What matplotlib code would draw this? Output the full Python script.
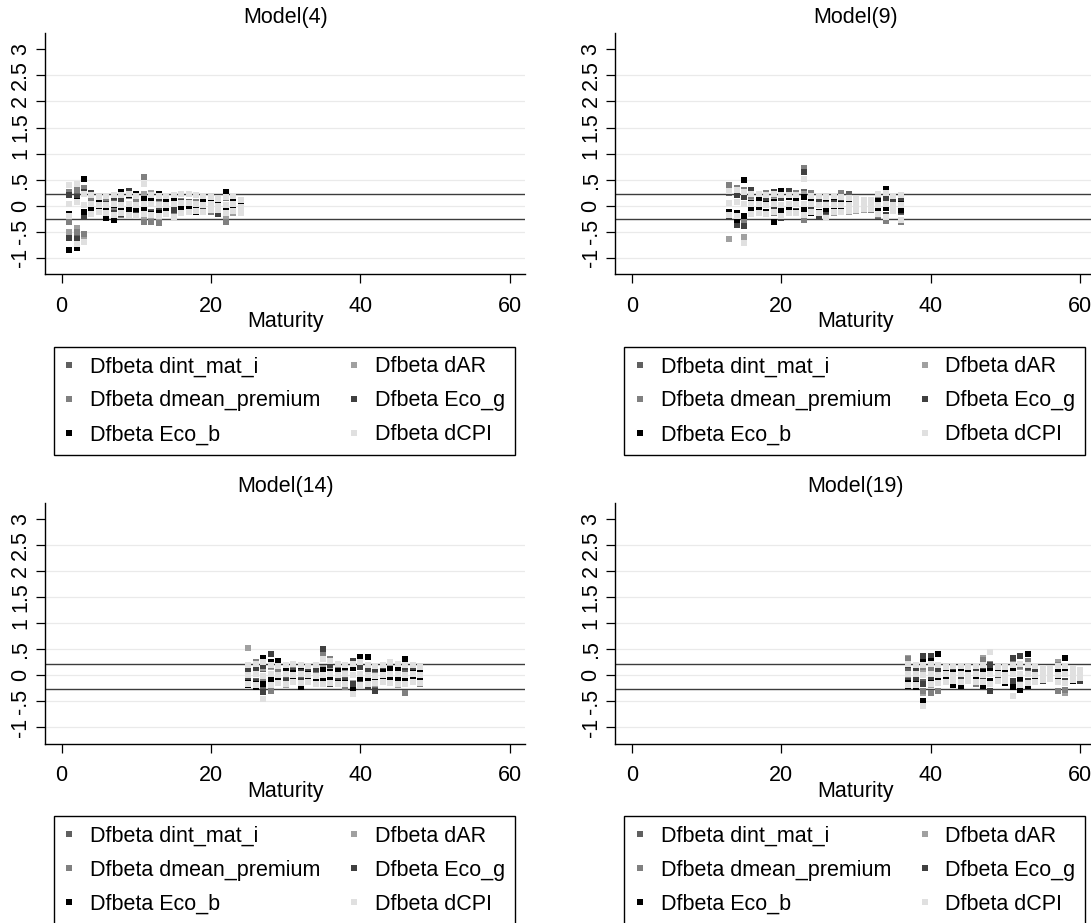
import matplotlib
matplotlib.use("Agg")
import matplotlib.pyplot as plt

plt.rcParams["font.family"] = ["Liberation Sans", "DejaVu Sans"]
plt.rcParams["font.size"] = 15.5

# ---- data ----
TITLES = ["Model(4)", "Model(9)", "Model(14)", "Model(19)"]
Y_TICKS = [-1, -0.5, 0, 0.5, 1, 1.5, 2, 2.5, 3]
Y_TICK_LABELS = ["-1", "-.5", "0", ".5", "1", "1.5", "2", "2.5", "3"]
X_TICKS = [0, 20, 40, 60]
CUTOFFS = [0.22, -0.26]

SERIES = ["Dfbeta dint_mat_i", "Dfbeta dAR", "Dfbeta dmean_premium",
          "Dfbeta Eco_g", "Dfbeta Eco_b", "Dfbeta dCPI"]
COLORS = ["#606060", "#a0a0a0", "#808080", "#404040", "#000000", "#e0e0e0"]

MAT_4 = list(range(1, 25))
MAT_9 = list(range(13, 37))
MAT_14 = list(range(25, 49))
MAT_19 = list(range(37, 61))

# model 4
M4_DINT = [[0.26, 0.22, 0.26, 0.22, 0.10, 0.12, 0.14, 0.18, 0.24, 0.16, 0.06, 0.20, 0.18, 0.08, 0.10, 0.05, 0.06, 0.03, 0.14, 0.06, 0.04, 0.22, 0.14, 0.07],
           [-0.58, -0.62, -0.18, -0.08, -0.03, -0.17, -0.19, -0.17, -0.15, -0.12, -0.10, -0.12, -0.14, -0.10, -0.06, -0.12, -0.09, -0.11, -0.12, -0.08, -0.17, -0.25, -0.09, -0.06]]
M4_DAR = [[0.39, 0.30, 0.30, 0.18, 0.10, 0.07, 0.04, 0.10, 0.18, 0.14, 0.22, 0.24, 0.12, 0.12, 0.08, 0.06, 0.04, 0.05, 0.18, 0.10, 0.08, 0.18, 0.18, 0.05],
          [-0.51, -0.44, -0.58, -0.14, -0.10, -0.10, -0.12, -0.12, -0.14, -0.12, -0.24, -0.28, -0.30, -0.12, -0.15, -0.08, -0.06, -0.12, -0.08, -0.10, -0.12, -0.20, -0.14, -0.10]]
M4_DMEAN = [[0.26, 0.29, 0.33, 0.12, 0.08, 0.10, 0.20, 0.12, 0.18, 0.10, 0.54, 0.18, 0.20, 0.10, 0.06, 0.08, 0.05, 0.06, 0.18, 0.05, 0.08, 0.14, 0.18, 0.06],
            [-0.31, -0.50, -0.54, -0.10, -0.08, -0.14, -0.04, -0.18, -0.10, -0.12, -0.31, -0.31, -0.33, -0.10, -0.13, -0.06, -0.09, -0.06, -0.10, -0.13, -0.10, -0.31, -0.10, -0.07]]
M4_ECO_G = [[0.20, 0.16, 0.26, 0.24, 0.08, 0.04, 0.16, 0.12, 0.28, 0.18, 0.10, 0.20, 0.15, 0.10, 0.14, 0.06, 0.04, 0.02, 0.10, 0.08, 0.03, 0.16, 0.12, 0.07],
            [-0.62, -0.65, -0.22, -0.04, -0.06, -0.12, -0.14, -0.17, -0.12, -0.10, -0.13, -0.14, -0.10, -0.07, -0.09, -0.09, -0.10, -0.12, -0.10, -0.06, -0.17, -0.15, -0.08, -0.05]]
M4_ECO_B = [[-0.17, 0.09, 0.52, 0.01, 0.13, -0.09, 0.02, 0.26, 0.20, 0.23, 0.12, 0.10, 0.23, 0.13, 0.13, 0.03, 0.00, -0.05, 0.06, 0.13, 0.04, 0.26, 0.08, 0.04],
            [-0.85, -0.81, -0.12, -0.06, -0.04, -0.23, -0.28, -0.10, -0.09, -0.06, -0.08, -0.17, -0.15, -0.06, 0.08, -0.08, -0.09, -0.12, -0.13, 0.06, -0.05, -0.10, -0.06, -0.04]]
M4_DCPI = [[0.39, 0.41, 0.22, 0.20, 0.16, 0.18, 0.20, 0.20, 0.22, 0.18, 0.41, 0.20, 0.18, 0.18, 0.20, 0.22, 0.22, 0.20, 0.18, 0.16, 0.12, 0.16, 0.18, 0.10],
           [0.04, 0.06, 0.02, 0.03, 0.01, 0.02, 0.03, 0.02, 0.03, 0.02, 0.04, 0.03, 0.01, 0.02, 0.03, 0.05, 0.05, 0.03, 0.02, 0.03, 0.00, 0.02, 0.03, -0.02],
           [-0.20, -0.74, -0.70, -0.16, -0.12, -0.15, -0.18, -0.14, -0.18, -0.20, -0.16, -0.18, -0.20, -0.16, -0.22, -0.14, -0.12, -0.10, -0.12, -0.08, -0.08, -0.14, -0.10, -0.15]]

# model 9
M9_DINT = [[0.24, 0.22, 0.20, 0.24, 0.12, 0.14, 0.18, 0.16, 0.24, 0.12, 0.26, 0.12, 0.10, 0.08, 0.12, 0.10, 0.23, 0.08, 0.06, 0.08, 0.10, 0.12, 0.08, 0.08],
           [-0.14, -0.30, -0.28, -0.12, -0.10, -0.14, -0.10, -0.18, -0.11, -0.12, -0.08, -0.12, -0.16, -0.12, -0.10, -0.10, -0.09, -0.08, -0.08, -0.06, -0.20, -0.25, -0.08, -0.12]]
M9_DAR = [[0.30, 0.30, 0.26, 0.16, 0.12, 0.24, 0.18, 0.14, 0.16, 0.20, 0.22, 0.24, 0.10, 0.10, 0.12, 0.20, 0.14, 0.08, 0.08, 0.08, 0.12, 0.16, 0.10, 0.18],
          [-0.64, -0.24, -0.60, -0.17, -0.14, -0.12, -0.12, -0.20, -0.14, -0.12, -0.27, -0.14, -0.16, -0.10, -0.14, -0.12, -0.12, -0.10, -0.08, -0.08, -0.15, -0.30, -0.08, -0.32]]
M9_DMEAN = [[0.40, 0.34, 0.30, 0.18, 0.14, 0.24, 0.20, 0.18, 0.20, 0.24, 0.72, 0.24, 0.14, 0.10, 0.14, 0.24, 0.12, 0.10, 0.08, 0.06, 0.10, 0.14, 0.08, 0.18],
            [-0.16, -0.22, -0.30, -0.17, -0.12, -0.16, -0.14, -0.20, -0.12, -0.14, -0.27, -0.12, -0.14, -0.10, -0.12, -0.10, -0.10, -0.08, -0.06, -0.08, -0.18, -0.30, -0.08, -0.32]]
M9_ECO_G = [[0.26, 0.20, 0.17, 0.30, 0.10, 0.12, 0.26, 0.14, 0.28, 0.08, 0.64, 0.10, 0.08, 0.06, 0.10, 0.12, 0.07, 0.06, 0.05, 0.06, 0.05, 0.15, 0.06, 0.08],
            [-0.20, -0.38, -0.40, -0.10, -0.08, -0.12, -0.08, -0.24, -0.11, -0.10, -0.10, -0.08, -0.20, -0.10, -0.08, -0.08, -0.10, -0.06, -0.06, -0.05, -0.17, -0.19, -0.06, -0.10]]
M9_ECO_B = [[-0.13, -0.14, 0.49, 0.05, 0.15, 0.04, 0.06, 0.28, 0.17, 0.10, 0.17, 0.06, 0.02, 0.15, 0.17, 0.04, 0.03, 0.02, 0.05, 0.03, 0.08, 0.31, 0.02, 0.04],
            [-0.15, -0.27, -0.20, -0.05, -0.08, -0.13, -0.32, -0.10, -0.06, -0.12, -0.08, -0.14, -0.13, -0.06, -0.05, -0.08, -0.11, -0.07, -0.05, -0.06, -0.08, -0.04, -0.11, -0.08]]
M9_DCPI = [[0.28, 0.30, 0.26, 0.22, 0.22, 0.20, 0.22, 0.20, 0.20, 0.20, 0.51, 0.18, 0.18, 0.16, 0.18, 0.16, 0.14, 0.12, 0.10, 0.10, 0.22, 0.24, 0.18, 0.20],
           [0.05, 0.06, 0.03, 0.04, 0.03, 0.02, 0.04, 0.02, 0.03, 0.03, 0.04, 0.03, 0.01, 0.02, 0.02, 0.02, 0.02, 0.01, 0.01, 0.01, 0.02, 0.03, 0.02, 0.02],
           [-0.18, -0.20, -0.72, -0.16, -0.14, -0.16, -0.12, -0.20, -0.14, -0.14, -0.18, -0.12, -0.14, -0.24, -0.12, -0.12, -0.10, -0.08, -0.06, -0.06, -0.16, -0.22, -0.10, -0.28]]

# model 14
M14_DINT = [[0.08, 0.14, 0.12, 0.20, 0.12, 0.10, 0.10, 0.12, 0.12, 0.10, 0.14, 0.16, 0.10, 0.12, 0.20, 0.18, 0.14, 0.10, 0.08, 0.08, 0.06, 0.12, 0.08, 0.12],
            [-0.12, -0.12, -0.22, -0.10, -0.14, -0.10, -0.12, -0.10, -0.10, -0.12, -0.12, -0.14, -0.12, -0.10, -0.16, -0.14, -0.15, -0.20, -0.10, -0.10, -0.08, -0.16, -0.08, -0.12]]
M14_DAR = [[0.51, 0.20, 0.14, 0.16, 0.12, 0.10, 0.14, 0.08, 0.10, 0.12, 0.14, 0.16, 0.20, 0.10, 0.16, 0.30, 0.12, 0.08, 0.10, 0.14, 0.08, 0.20, 0.08, 0.12],
           [-0.08, -0.14, -0.12, -0.31, -0.14, -0.20, -0.10, -0.12, -0.10, -0.15, -0.12, -0.14, -0.12, -0.24, -0.16, -0.12, -0.14, -0.18, -0.12, -0.14, -0.20, -0.34, -0.12, -0.18]]
M14_DMEAN = [[0.11, 0.24, 0.17, 0.18, 0.10, 0.12, 0.14, 0.10, 0.12, 0.08, 0.40, 0.30, 0.20, 0.10, 0.18, 0.30, 0.18, 0.10, 0.10, 0.12, 0.08, 0.20, 0.10, 0.14],
             [-0.10, -0.16, -0.12, -0.31, -0.12, -0.14, -0.12, -0.14, -0.12, -0.15, -0.14, -0.12, -0.14, -0.24, -0.20, -0.14, -0.12, -0.16, -0.10, -0.12, -0.10, -0.34, -0.10, -0.18]]
M14_ECO_G = [[0.12, 0.10, 0.17, 0.40, 0.17, 0.14, 0.08, 0.10, 0.10, 0.12, 0.49, 0.20, 0.08, 0.15, 0.27, 0.16, 0.10, 0.12, 0.08, 0.10, 0.06, 0.15, 0.10, 0.14],
             [-0.10, -0.14, -0.32, -0.14, -0.10, -0.12, -0.10, -0.12, -0.10, -0.12, -0.15, -0.18, -0.10, -0.12, -0.18, -0.12, -0.21, -0.31, -0.12, -0.08, -0.10, -0.18, -0.06, -0.10]]
M14_ECO_B = [[-0.15, -0.18, 0.33, 0.24, 0.27, 0.12, 0.04, 0.17, 0.01, 0.20, 0.10, 0.06, 0.08, 0.15, 0.14, 0.35, 0.35, 0.17, 0.06, 0.11, 0.10, 0.30, 0.04, 0.06],
             [-0.20, -0.24, -0.18, -0.10, -0.12, -0.18, -0.10, -0.24, -0.12, -0.10, -0.06, -0.10, -0.15, -0.16, -0.28, -0.05, -0.12, -0.08, -0.12, -0.06, -0.08, -0.10, -0.08, -0.06]]
M14_DCPI = [[0.20, 0.22, 0.24, 0.20, 0.18, 0.20, 0.22, 0.20, 0.18, 0.20, 0.30, 0.26, 0.22, 0.20, 0.22, 0.24, 0.20, 0.18, 0.20, 0.24, 0.22, 0.20, 0.20, 0.16],
            [0.00, 0.02, -0.01, 0.01, 0.00, 0.01, 0.00, 0.01, 0.00, -0.01, 0.00, 0.02, 0.00, 0.01, 0.00, 0.01, 0.00, -0.01, 0.00, 0.02, 0.01, 0.00, 0.01, 0.00],
            [-0.18, -0.20, -0.47, -0.20, -0.16, -0.18, -0.14, -0.16, -0.14, -0.18, -0.18, -0.16, -0.18, -0.18, -0.37, -0.20, -0.18, -0.16, -0.14, -0.16, -0.18, -0.18, -0.14, -0.16]]

# model 19
M19_DINT = [[0.10, 0.12, 0.20, 0.14, 0.16, 0.08, 0.10, 0.12, 0.08, 0.10, 0.12, 0.14, 0.10, 0.08, 0.16, 0.20, 0.12, 0.10, 0.06, 0.04, 0.12, 0.10, 0.08, 0.04],
            [-0.10, -0.12, -0.14, -0.12, -0.10, -0.08, -0.12, -0.10, -0.08, -0.10, -0.12, -0.18, -0.10, -0.08, -0.14, -0.16, -0.14, -0.12, -0.10, -0.06, -0.10, -0.14, -0.08, -0.10]]
M19_DAR = [[0.33, 0.20, 0.12, 0.10, 0.12, 0.06, 0.08, 0.10, 0.14, 0.10, 0.33, 0.20, 0.10, 0.08, 0.24, 0.16, 0.20, 0.08, 0.10, 0.06, 0.24, 0.10, 0.06, 0.05],
           [-0.10, -0.14, -0.34, -0.20, -0.31, -0.08, -0.10, -0.08, -0.10, -0.18, -0.12, -0.16, -0.10, -0.10, -0.16, -0.12, -0.14, -0.12, -0.10, -0.06, -0.31, -0.34, -0.08, -0.06]]
M19_DMEAN = [[0.30, 0.18, 0.16, 0.14, 0.12, 0.08, 0.06, 0.10, 0.14, 0.08, 0.28, 0.22, 0.08, 0.08, 0.24, 0.18, 0.26, 0.10, 0.12, 0.06, 0.20, 0.12, 0.06, 0.04],
             [-0.08, -0.12, -0.30, -0.34, -0.31, -0.08, -0.08, -0.10, -0.10, -0.18, -0.12, -0.14, -0.10, -0.08, -0.14, -0.10, -0.12, -0.10, -0.08, -0.06, -0.31, -0.28, -0.08, -0.06]]
M19_ECO_G = [[0.20, 0.14, 0.37, 0.37, 0.12, 0.10, 0.11, 0.14, 0.10, 0.12, 0.17, 0.20, 0.10, 0.10, 0.33, 0.37, 0.15, 0.12, 0.08, 0.06, 0.10, 0.10, 0.08, 0.06],
             [-0.12, -0.10, -0.18, -0.10, -0.08, -0.05, -0.10, -0.08, -0.10, -0.08, -0.10, -0.31, -0.08, -0.10, -0.12, -0.12, -0.12, -0.12, -0.12, -0.04, -0.12, -0.12, -0.08, -0.12]]
M19_ECO_B = [[-0.15, -0.24, 0.24, 0.27, 0.40, 0.14, 0.04, 0.06, 0.10, 0.17, 0.05, 0.08, 0.04, 0.06, 0.10, -0.05, 0.40, 0.17, 0.06, 0.06, 0.08, 0.33, 0.10, 0.06],
             [-0.21, -0.18, -0.50, -0.15, -0.12, -0.06, -0.19, -0.21, -0.08, -0.06, -0.21, -0.12, -0.12, -0.15, -0.24, -0.28, -0.21, -0.08, -0.06, -0.06, -0.08, 0.11, -0.12, -0.06]]
M19_DCPI = [[0.22, 0.20, 0.20, 0.22, 0.20, 0.16, 0.18, 0.18, 0.16, 0.18, 0.20, 0.45, 0.16, 0.16, 0.20, 0.22, 0.20, 0.18, 0.14, 0.12, 0.18, 0.18, 0.12, 0.10],
            [0.01, 0.02, 0.00, 0.01, 0.00, 0.01, 0.00, 0.01, 0.00, 0.01, 0.00, 0.02, 0.01, 0.00, 0.01, 0.02, 0.01, 0.00, 0.01, 0.01, 0.00, 0.01, 0.01, 0.02],
            [-0.20, -0.20, -0.60, -0.18, -0.16, -0.14, -0.12, -0.14, -0.12, -0.14, -0.14, -0.18, -0.12, -0.12, -0.40, -0.20, -0.16, -0.14, -0.10, -0.08, -0.14, -0.16, -0.10, -0.06]]

PANELS = [
    (MAT_4, [M4_DINT, M4_DAR, M4_DMEAN, M4_ECO_G, M4_ECO_B, M4_DCPI]),
    (MAT_9, [M9_DINT, M9_DAR, M9_DMEAN, M9_ECO_G, M9_ECO_B, M9_DCPI]),
    (MAT_14, [M14_DINT, M14_DAR, M14_DMEAN, M14_ECO_G, M14_ECO_B, M14_DCPI]),
    (MAT_19, [M19_DINT, M19_DAR, M19_DMEAN, M19_ECO_G, M19_ECO_B, M19_DCPI]),
]

# ---- layout (pixels in a 1091x923 canvas) ----
W, H = 1091, 923
AX_BOXES = [(45, 33.3), (615.4, 33.3), (45, 502.7), (615.4, 502.7)]  # left, top
AX_W, AX_H = 480.4, 241
LEG_BOXES = [(53.7, 346.7), (624.3, 346.7), (53.7, 816), (624.3, 816)]
LEG_W, LEG_H = 461, 109

fig = plt.figure(figsize=(W / 100, H / 100), dpi=100)

for k, (mats, series) in enumerate(PANELS):
    left, top = AX_BOXES[k]
    ax = fig.add_axes([left / W, 1 - (top + AX_H) / H, AX_W / W, AX_H / H])

    # drawn in legend order, so dCPI ends up on top
    lines = []
    for i, obs_sets in enumerate(series):
        xs, ys = [], []
        for obs in obs_sets:
            xs += mats
            ys += obs
        ln, = ax.plot(xs, ys, ls="none", marker="s", ms=5, mew=0,
                      color=COLORS[i], zorder=3 + i, label=SERIES[i])
        lines.append(ln)

    for c in CUTOFFS:
        ax.axhline(c, color="#3c3c3c", lw=1.0, zorder=2)

    ax.set_xlim(-2.22, 62.1)
    ax.set_ylim(-1.32, 3.31)
    ax.set_xticks(X_TICKS)
    ax.set_yticks(Y_TICKS)
    ax.set_yticklabels(Y_TICK_LABELS, rotation=90, va="center")
    ax.tick_params(axis="both", length=6.5, width=0.9, labelsize=15.5)
    ax.tick_params(axis="x", pad=9)
    ax.tick_params(axis="y", pad=3.5)

    ax.yaxis.grid(True, color="#eaeaea", lw=0.9, zorder=0)
    ax.get_ygridlines()[-1].set_visible(False)
    ax.set_axisbelow(True)

    for s in ["top", "right"]:
        ax.spines[s].set_visible(False)
    for s in ["left", "bottom"]:
        ax.spines[s].set_linewidth(1.0)

    ax.set_title(TITLES[k], fontsize=15.5, pad=7.5)
    ax.set_xlabel("Maturity", fontsize=15.5)
    ax.xaxis.set_label_coords(0.5, -37.0 / AX_H)

    lx, ly = LEG_BOXES[k]
    # legend fills row by row: dint, dAR / dmean, Eco_g / Eco_b, dCPI
    leg_order = [0, 2, 4, 1, 3, 5]
    leg = fig.legend([lines[i] for i in leg_order], [SERIES[i] for i in leg_order],
                     loc="upper left",
                     bbox_to_anchor=(lx / W, 1 - (ly + LEG_H) / H, LEG_W / W, LEG_H / H),
                     mode="expand", ncol=2, borderaxespad=0, fancybox=False,
                     edgecolor="black", framealpha=1, fontsize=15.5,
                     markerscale=0.85, borderpad=0.45, labelspacing=0.6,
                     handlelength=0.55, handletextpad=0.69, columnspacing=1.0)
    leg.get_frame().set_linewidth(1.0)

fig.savefig("out.png", dpi=100)
